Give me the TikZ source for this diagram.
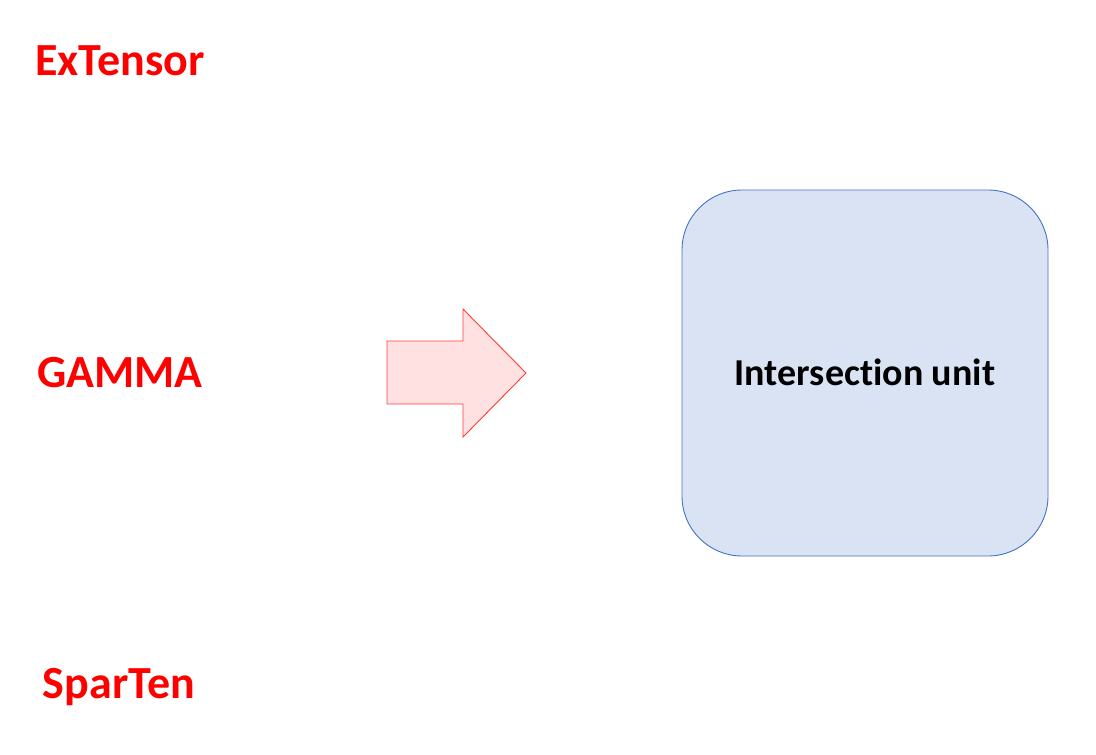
\documentclass[tikz,border=0pt]{standalone}
\usepackage{fontspec}
\setmainfont{Carlito}[Ligatures={NoCommon}]
\definecolor{boxfill}{HTML}{DAE3F3}
\definecolor{boxline}{HTML}{4472C4}
\definecolor{arrfill}{HTML}{FFE1E1}
\definecolor{arrline}{HTML}{FF3B3B}
\begin{document}
\begin{tikzpicture}[x=1pt,y=-1pt,
  redlabel/.style={font=\fontsize{46}{52}\selectfont\bfseries, text=red, anchor=base, inner sep=0pt},
  unitbox/.style={draw=boxline, fill=boxfill, line width=0.9pt, rounded corners=60pt}]
\useasboundingbox (0,0) rectangle (1096,755);
\node[redlabel] (ext) at (120,75) {ExTensor};
\node[redlabel] (gam) at (120,387) {GAMMA};
\node[redlabel] (spa) at (119,698) {SparTen};
\draw[unitbox] (682,190) rectangle (1048,556);
\node[font=\fontsize{38}{44}\selectfont\bfseries, anchor=base, inner sep=0pt] (unit) at (865,385) {Intersection unit};
\draw[draw=arrline, fill=arrfill, line width=0.9pt, line join=miter]
  (387,341) -- (463,341) -- (463,309) -- (526,373) -- (463,437) -- (463,404) -- (387,404) -- cycle;
\end{tikzpicture}
\end{document}
